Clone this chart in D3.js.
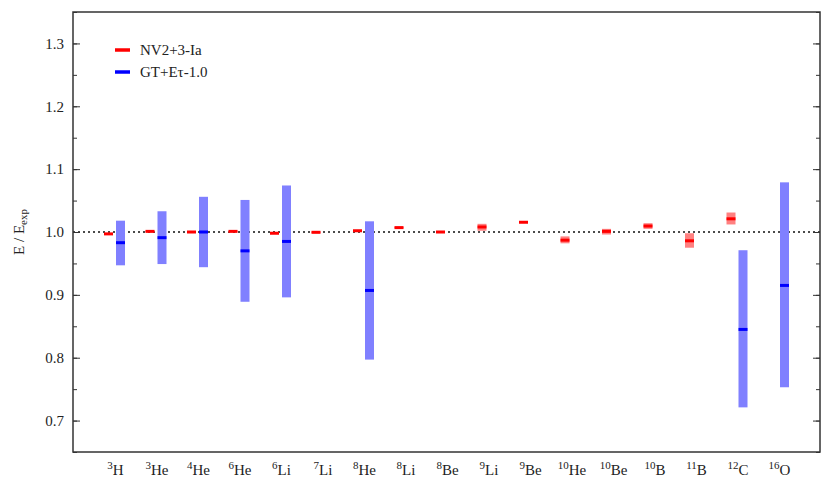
<!DOCTYPE html>
<html>
<head>
<meta charset="utf-8">
<script src="https://cdn.jsdelivr.net/npm/d3@7"></script>
<style>
  body { margin: 0; background: #fff; }
</style>
</head>
<body>
<div id="chart"></div>
<script>
var margin = {top: 12, right: 11, bottom: 35, left: 73},
    width = 831 - margin.left - margin.right,
    height = 487 - margin.top - margin.bottom;

var serif = "'Liberation Serif', 'DejaVu Serif', serif";

// nuclei (mass number, symbol)
var massNumbers = ["3", "3", "4", "6", "6", "7", "8", "8", "8", "9", "9", "10", "10", "10", "11", "12", "16"];
var symbols = ["H", "He", "He", "He", "Li", "Li", "He", "Li", "Be", "Li", "Be", "He", "Be", "B", "B", "C", "O"];

// NV2+3-Ia: central value and uncertainty band
var nvValue = [0.997, 1.001, 1.000, 1.001, 0.998, 0.9995, 1.002, 1.007, 1.000, 1.008, 1.0155, 0.987, 1.001, 1.0095, 0.986, 1.021, null];
var nvLow   = [0.996, 1.000, 0.999, 1.000, 0.997, 0.9985, 1.001, 1.006, 0.999, 1.002, 1.0145, 0.982, 0.996, 1.005, 0.975, 1.012, null];
var nvHigh  = [0.998, 1.002, 1.001, 1.002, 0.999, 1.0005, 1.003, 1.008, 1.001, 1.013, 1.0165, 0.993, 1.005, 1.014, 0.998, 1.031, null];

// GT+Eτ-1.0: central value and band
var gtValue = [0.983, 0.991, 1.000, 0.970, 0.985, null, 0.907, null, null, null, null, null, null, null, null, 0.845, 0.915];
var gtLow   = [0.947, 0.949, 0.944, 0.889, 0.896, null, 0.797, null, null, null, null, null, null, null, null, 0.721, 0.753];
var gtHigh  = [1.018, 1.033, 1.056, 1.051, 1.074, null, 1.017, null, null, null, null, null, null, null, null, 0.971, 1.079];

var yTicks = [0.7, 0.8, 0.9, 1.0, 1.1, 1.2, 1.3];

var svg = d3.select("#chart")
            .append("svg")
              .attr("width", width + margin.left + margin.right)
              .attr("height", height + margin.top + margin.bottom)
              .attr("font-family", serif);

var chart = svg.append("g")
              .attr("transform", "translate(" + margin.left + "," + margin.top + ")");

// scales
var xScale = d3.scaleLinear()
               .domain([-1, massNumbers.length])
               .range([0, width]);

var yScale = d3.scaleLinear()
               .domain([0.65, 1.35])
               .range([height, 0]);

var barW = 9,
    offset = 6;

// reference line at 1
chart.append("line")
  .attr("x1", 0)
  .attr("x2", width)
  .attr("y1", yScale(1))
  .attr("y2", yScale(1))
  .attr("stroke", "#111")
  .attr("stroke-width", 1.5)
  .attr("stroke-dasharray", "2,3");

var idx = d3.range(massNumbers.length);

// GT bands
var gtIdx = idx.filter(function(i) { return gtValue[i] !== null; });
chart.selectAll(".gt-band")
  .data(gtIdx)
.enter().append("rect")
  .attr("class", "gt-band")
  .attr("x", function(i) { return xScale(i) + offset - barW / 2; })
  .attr("width", barW)
  .attr("y", function(i) { return yScale(gtHigh[i]); })
  .attr("height", function(i) { return yScale(gtLow[i]) - yScale(gtHigh[i]); })
  .attr("fill", "#8080ff");

chart.selectAll(".gt-mid")
  .data(gtIdx)
.enter().append("rect")
  .attr("class", "gt-mid")
  .attr("x", function(i) { return xScale(i) + offset - barW / 2; })
  .attr("width", barW)
  .attr("y", function(i) { return yScale(gtValue[i]) - 1.5; })
  .attr("height", 3)
  .attr("fill", "#0000ff");

// NV bands
var nvIdx = idx.filter(function(i) { return nvValue[i] !== null; });
chart.selectAll(".nv-band")
  .data(nvIdx)
.enter().append("rect")
  .attr("class", "nv-band")
  .attr("x", function(i) { return xScale(i) - offset - barW / 2; })
  .attr("width", barW)
  .attr("y", function(i) { return yScale(nvHigh[i]); })
  .attr("height", function(i) { return yScale(nvLow[i]) - yScale(nvHigh[i]); })
  .attr("fill", "#ff8080");

chart.selectAll(".nv-mid")
  .data(nvIdx)
.enter().append("rect")
  .attr("class", "nv-mid")
  .attr("x", function(i) { return xScale(i) - offset - barW / 2; })
  .attr("width", barW)
  .attr("y", function(i) { return yScale(nvValue[i]) - 1.5; })
  .attr("height", 3)
  .attr("fill", "#ff0000");

// y axes, ticks inward on both sides
var minorTicks = d3.range(0.65, 1.351, 0.05).map(function(d) { return +d.toFixed(2); });

var yAxisLeft = d3.axisRight(yScale).tickValues(yTicks).tickSize(7).tickFormat("");
var yAxisLeftMinor = d3.axisRight(yScale).tickValues(minorTicks).tickSize(4).tickFormat("");
var yAxisRight = d3.axisLeft(yScale).tickValues(yTicks).tickSize(7).tickFormat("");
var yAxisRightMinor = d3.axisLeft(yScale).tickValues(minorTicks).tickSize(4).tickFormat("");

[yAxisLeft, yAxisLeftMinor].forEach(function(ax) {
  chart.append("g").attr("class", "axis").call(ax);
});
[yAxisRight, yAxisRightMinor].forEach(function(ax) {
  chart.append("g").attr("class", "axis")
    .attr("transform", "translate(" + width + ",0)")
    .call(ax);
});
chart.selectAll(".axis .domain").remove();
chart.selectAll(".axis line").attr("stroke", "#333").attr("stroke-width", 1);

// tick labels
chart.selectAll(".ylabel")
  .data(yTicks)
.enter().append("text")
  .attr("class", "ylabel")
  .attr("x", -9)
  .attr("y", function(d) { return yScale(d); })
  .attr("dy", "0.35em")
  .attr("text-anchor", "end")
  .attr("font-family", serif)
  .attr("font-size", 15)
  .attr("fill", "#222")
  .text(function(d) { return d.toFixed(1); });

// frame
chart.append("rect")
  .attr("width", width)
  .attr("height", height)
  .attr("fill", "none")
  .attr("stroke", "#333")
  .attr("stroke-width", 1.5);

// x labels with superscripts
var xl = chart.selectAll(".xlabel")
  .data(idx)
.enter().append("text")
  .attr("class", "xlabel")
  .attr("x", function(i) { return xScale(i) + 1; })
  .attr("y", height + 23)
  .attr("text-anchor", "middle")
  .attr("font-family", serif)
  .attr("font-size", 15)
  .attr("fill", "#222");

xl.append("tspan")
  .attr("font-size", 11)
  .attr("dy", -6)
  .text(function(i) { return massNumbers[i]; });
xl.append("tspan")
  .attr("dy", 6)
  .text(function(i) { return symbols[i]; });

// y axis title
var yt = svg.append("text")
  .attr("transform", "translate(24," + (margin.top + height / 2) + ") rotate(-90)")
  .attr("text-anchor", "middle")
  .attr("font-family", serif)
  .attr("font-size", 15)
  .attr("fill", "#222");
yt.append("tspan").text("E / E");
yt.append("tspan").attr("font-size", 11).attr("dy", 3).text("exp");

// legend
var legendItems = [
  {name: "NV2+3-Ia", color: "#ff0000"},
  {name: "GT+E\u03c4-1.0", color: "#0000ff"}
];

var legend = chart.selectAll(".legend")
  .data(legendItems)
.enter().append("g")
  .attr("class", "legend")
  .attr("transform", function(d, i) { return "translate(42," + (38 + i * 22) + ")"; });

legend.append("line")
  .attr("x1", 0)
  .attr("x2", 15)
  .attr("stroke", function(d) { return d.color; })
  .attr("stroke-width", 3.5);

legend.append("text")
  .attr("x", 25)
  .attr("dy", "0.35em")
  .attr("font-family", serif)
  .attr("font-size", 15)
  .attr("fill", "#222")
  .text(function(d) { return d.name; });
</script>
</body>
</html>
